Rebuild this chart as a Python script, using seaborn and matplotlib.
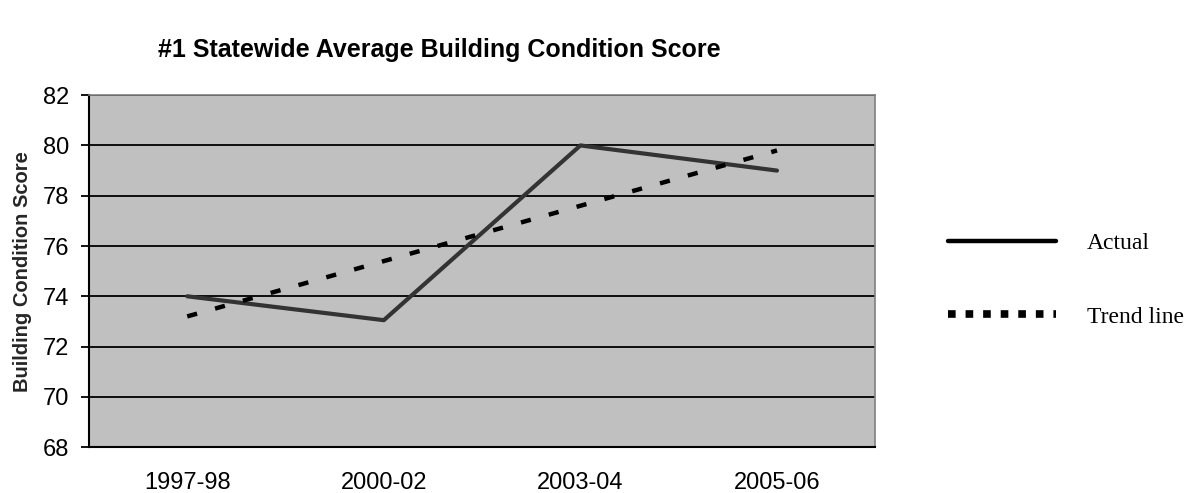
import pandas as pd
import numpy as np
import matplotlib
matplotlib.use("Agg")
import matplotlib.pyplot as plt
import seaborn as sns
from matplotlib.lines import Line2D

# values
years = ["1997-98", "2000-02", "2003-04", "2005-06"]
actual = [74.0, 73.05, 80.0, 79.0]
trend = [73.2, 75.4, 77.6, 79.8]

df = pd.DataFrame({"year": years, "Actual": actual, "Trend line": trend})
df["pos"] = range(len(years))

sns.set_style("white")
plt.rcParams["font.family"] = ["Liberation Sans", "DejaVu Sans"]
plt.rcParams["text.color"] = "black"
plt.rcParams["xtick.color"] = "black"
plt.rcParams["ytick.color"] = "black"

fig = plt.figure(figsize=(11.86, 4.93), dpi=100)
ax = fig.add_axes([0.075, 0.093, 0.663, 0.714])
ax.set_facecolor("#c0c0c0")

sns.lineplot(data=df, x="pos", y="Actual", ax=ax, color="#333333", lw=3)
sns.lineplot(data=df, x="pos", y="Trend line", ax=ax, color="black", lw=3.2,
             linestyle=(0, (2.3, 4.2)))

ax.set_xlim(-0.5, len(years) - 0.5)
ax.set_ylim(68, 82)
ax.set_yticks(np.arange(68, 83, 2))
ax.set_xticks(df["pos"])
ax.set_xticklabels(years)
ax.set_xticks(np.arange(-0.5, len(years), 1), minor=True)
ax.tick_params(axis="x", which="major", length=0, pad=18, labelsize=17)
ax.tick_params(axis="x", which="minor", length=6, width=1.3, color="black", direction="out")
ax.tick_params(axis="y", length=6, width=1.3, color="black", direction="out",
               labelsize=17, left=True, pad=8)
ax.yaxis.grid(True, color="black", lw=1.3)
ax.set_axisbelow(True)

for s in ["left", "bottom"]:
    ax.spines[s].set_color("black")
    ax.spines[s].set_linewidth(1.5)
for s in ["top", "right"]:
    ax.spines[s].set_color("#808080")
    ax.spines[s].set_linewidth(1.2)

ax.set_xlabel("")
ax.set_ylabel("Building Condition Score", fontsize=14.5, fontweight="bold", labelpad=8)

fig.text(0.37, 0.899, "#1 Statewide Average Building Condition Score",
         ha="center", va="center", fontsize=18, fontweight="bold")

handles = [Line2D([0], [0], color="black", lw=3.2),
           Line2D([0], [0], color="black", lw=5.5, linestyle=(0, (1, 1.3)))]
fig.legend(handles, ["Actual", "Trend line"], loc="center left",
           bbox_to_anchor=(0.799, 0.432), frameon=False, borderpad=0, borderaxespad=0,
           prop={"family": ["Liberation Serif", "DejaVu Serif"], "size": 17},
           handlelength=4.6, handletextpad=1.3, labelspacing=2.2)

fig.savefig("out.png", dpi=100)
